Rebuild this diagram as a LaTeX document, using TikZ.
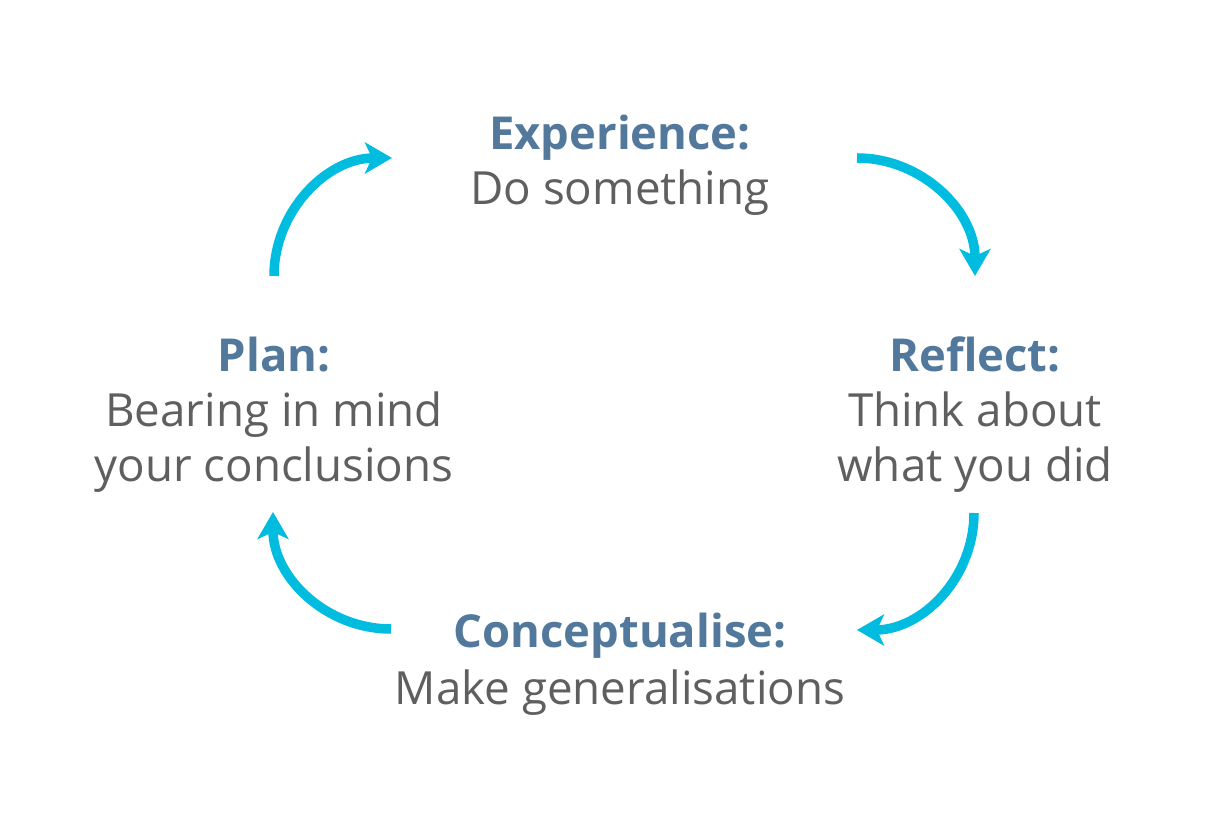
\documentclass[tikz,border=0pt]{standalone}
\usepackage{fontspec}
\setmainfont{Open Sans}
\usetikzlibrary{arrows.meta}
\definecolor{arrowc}{HTML}{00BDE0}
\definecolor{titlec}{HTML}{52789C}
\definecolor{bodyc}{HTML}{5F5F5F}
\tikzset{
  ttl/.style={font=\fontsize{45.4}{56}\selectfont\bfseries, text=titlec, anchor=base, inner sep=0pt},
  bdy/.style={font=\fontsize{45.7}{56}\selectfont, text=bodyc, anchor=base, inner sep=0pt},
  cyc/.style={draw=arrowc, line width=9.5pt, -{Stealth[length=27pt,width=31pt,inset=7pt]}}
}
\begin{document}
\begin{tikzpicture}[x=1pt,y=1pt]
\useasboundingbox (0,0) rectangle (1219,833);
% Experience (top)
\node[ttl] (expT) at (620,833-150) {Experience:};
\node[bdy] (expB) at (620,833-205) {Do something};
% Reflect (right)
\node[ttl] (refT) at (975,833-372) {Reflect:};
\node[bdy] (refB1) at (975,833-427) {Think about};
\node[bdy] (refB2) at (975,833-482) {what you did};
% Conceptualise (bottom)
\node[ttl] (conT) at (620,833-648) {Conceptualise:};
\node[bdy] (conB) at (620,833-705) {Make generalisations};
% Plan (left)
\node[ttl] (plaT) at (274,833-372) {Plan:};
\node[bdy] (plaB1) at (274,833-427) {Bearing in mind};
\node[bdy] (plaB2) at (274,833-482) {your conclusions};
% arrow end points
\coordinate (a1s) at (274,833-276);
\coordinate (a1e) at (392,833-158);
\coordinate (a2s) at (857,833-158);
\coordinate (a2e) at (975,833-276);
\coordinate (a3s) at (974,833-513);
\coordinate (a3e) at (857,833-630);
\coordinate (a4s) at (391,833-629);
\coordinate (a4e) at (273,833-512);
\draw[cyc] (a1s) .. controls ([yshift=65pt]a1s) and ([xshift=-65pt]a1e) .. (a1e);
\draw[cyc] (a2s) .. controls ([xshift=65pt]a2s) and ([yshift=65pt]a2e) .. (a2e);
\draw[cyc] (a3s) .. controls ([yshift=-65pt]a3s) and ([xshift=65pt]a3e) .. (a3e);
\draw[cyc] (a4s) .. controls ([xshift=-65pt]a4s) and ([yshift=-65pt]a4e) .. (a4e);
\end{tikzpicture}
\end{document}
